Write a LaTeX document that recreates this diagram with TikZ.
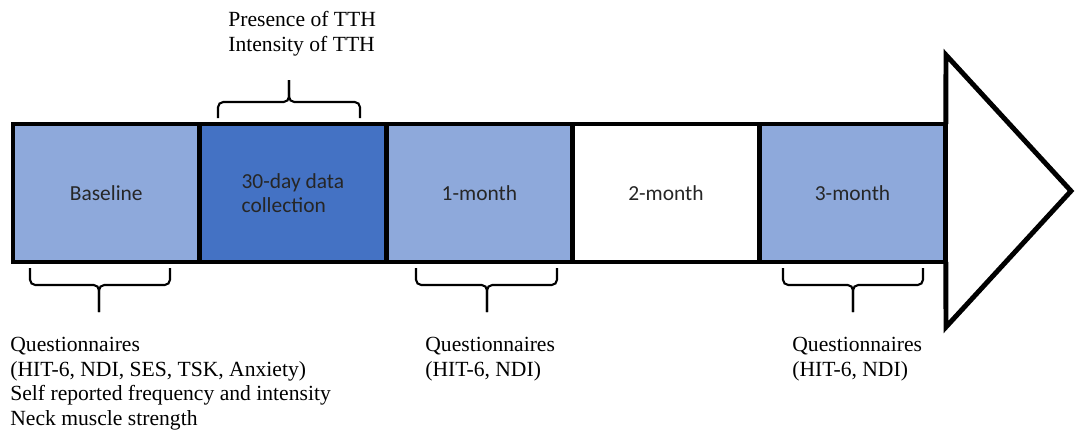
\documentclass[tikz,border=0pt]{standalone}
\usepackage{fontspec}
\setmainfont{Liberation Serif}
\newfontfamily\boxfont{Carlito}
\usetikzlibrary{positioning}

\definecolor{lightblue}{HTML}{8EA9DB}
\definecolor{darkblue}{HTML}{4472C4}

\begin{document}
\begin{tikzpicture}[
  x=0.02cm, y=-0.02cm,
  node distance=0pt,
  stage/.style={draw, line width=2.8pt, outer sep=0pt, minimum width=3.732cm, minimum height=2.76cm, font=\boxfont\fontsize{12.2}{14}\selectfont, text=black!85},
  filled/.style={stage, fill=lightblue},
  current/.style={stage, fill=darkblue},
  empty/.style={stage, fill=white},
  bracket/.style={line width=1.2pt, rounded corners=3pt},
  note/.style={anchor=north west, align=left, inner sep=0pt, font=\fontsize{12.3}{14}\selectfont}
]
\useasboundingbox (0,0) rectangle (1075,436);

% timeline blocks
\node[filled, anchor=north west] (base) at (13,124) {Baseline};
\node[current, right=of base, align=left] (collect) {30-day data\\collection};
\node[filled, right=of collect] (m1) {1-month};
\node[empty, right=of m1] (m2) {2-month};
\node[filled, right=of m2] (m3) {3-month};

% arrow head
\draw[line width=2.8pt, line join=miter] (m3.north east) -- (946,55) -- (1071,191) -- (946,327) -- (m3.south east);

% brackets
\draw[bracket] (218,118) |- (289,102) -- (289,80);
\draw[bracket] (360,118) |- (289,102) -- (289,80);
\draw[bracket] (30,268) |- (99,285) -- (99,312);
\draw[bracket] (170,268) |- (99,285) -- (99,312);
\draw[bracket] (416,268) |- (487,285) -- (487,312);
\draw[bracket] (557,268) |- (487,285) -- (487,312);
\draw[bracket] (783,268) |- (853,285) -- (853,312);
\draw[bracket] (923,268) |- (853,285) -- (853,312);

% labels
\node[note] (tth) at (228,11) {Presence of TTH\\Intensity of TTH};
\node[note] (qbase) at (10,337) {Questionnaires\\(HIT-6, NDI, SES, TSK, Anxiety)\\Self reported frequency and intensity\\Neck muscle strength};
\node[note] (q1) at (425,337) {Questionnaires\\(HIT-6, NDI)};
\node[note] (q3) at (792,337) {Questionnaires\\(HIT-6, NDI)};

\end{tikzpicture}
\end{document}
